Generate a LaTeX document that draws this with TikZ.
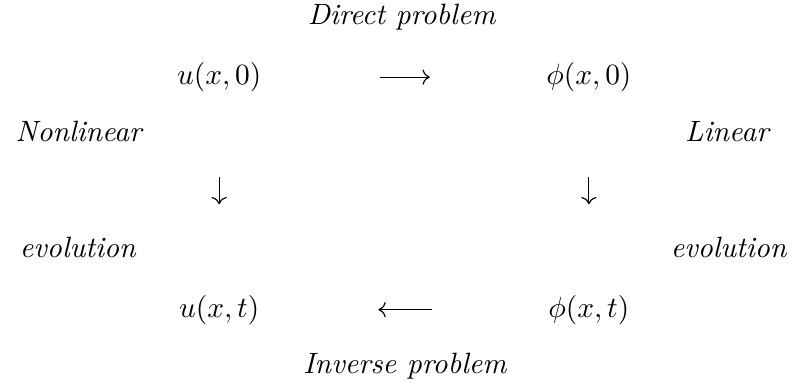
\documentclass[tikz,border=0pt]{standalone}
\usepackage{amsmath,amssymb}
\usepackage{tikz}
\usetikzlibrary{arrows.meta}

\begin{document}
\begin{tikzpicture}[>=To,
 term/.style={anchor=base},
 note/.style={anchor=base,font=\itshape}]
\useasboundingbox (0,0) rectangle (9.48,4.60);
\node[note] (dp) at (4.80,4.31) {Direct problem};
\node[term] (u0) at (2.62,3.59) {$u(x,0)$};
\node[term] (p0) at (7.04,3.59) {$\phi(x,0)$};
\node[note] (nl) at (0.94,2.91) {Nonlinear};
\node[note] (li) at (8.69,2.91) {Linear};
\node[note] (el) at (0.93,1.52) {evolution};
\node[note] (er) at (8.71,1.52) {evolution};
\node[term] (ut) at (2.62,0.81) {$u(x,t)$};
\node[term] (pt) at (7.04,0.81) {$\phi(x,t)$};
\node[note] (ip) at (4.84,0.14) {Inverse problem};
\draw[->,shorten <=1.30cm,shorten >=1.27cm] (u0)--(p0);
\draw[->,shorten <=1.27cm,shorten >=1.30cm] (pt)--(ut);
\draw[->,shorten <=0.90cm,shorten >=0.96cm] (u0)--(ut);
\draw[->,shorten <=0.90cm,shorten >=0.96cm] (p0)--(pt);
\end{tikzpicture}
\end{document}
